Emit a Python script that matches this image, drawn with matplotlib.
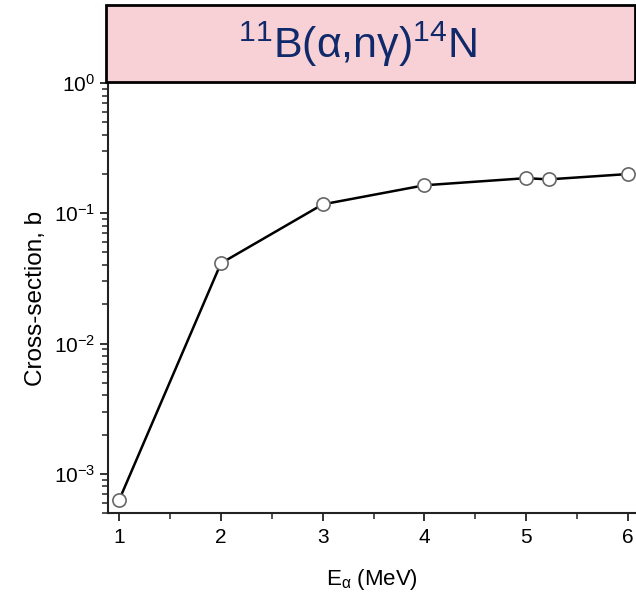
import matplotlib
matplotlib.use("Agg")
import matplotlib.pyplot as plt
from matplotlib.patches import Rectangle
from matplotlib.ticker import LogLocator, FixedLocator, NullFormatter

plt.rcParams['font.family'] = ['Liberation Sans', 'DejaVu Sans']
plt.rcParams['mathtext.fontset'] = 'custom'
plt.rcParams['mathtext.rm'] = 'Liberation Sans'
plt.rcParams['mathtext.it'] = 'Liberation Sans:italic'
plt.rcParams['mathtext.default'] = 'regular'

# Data
energy = [1.0, 2.0, 3.0, 4.0, 5.0, 5.22, 6.0]
cross_section = [6.3e-4, 0.0413, 0.117, 0.164, 0.186, 0.182, 0.200]
x_ticks = [1, 2, 3, 4, 5, 6]
y_ticks = [1e-3, 1e-2, 1e-1, 1e0]
y_tick_labels = ['$10^{-3}$', '$10^{-2}$', '$10^{-1}$', '$10^{0}$']
title = '$^{11}$B(α,nγ)$^{14}$N'
xlabel = 'E$_{α}$ (MeV)'
ylabel = 'Cross-section, b'

W, H = 636, 596
fig = plt.figure(figsize=(W / 100, H / 100), dpi=100)
ax = fig.add_axes([108 / W, (H - 513) / H, (W - 108) / W, (513 - 83) / H])

ax.plot(energy, cross_section, color='black', lw=1.8, marker='o', ms=9.5,
        mfc='white', mec='#666666', mew=1.2, zorder=3)

ax.set_yscale('log')
ax.set_ylim(5.0e-4, 1.0)
ax.set_xlim(0.89, 6.08)

ax.xaxis.set_major_locator(FixedLocator(x_ticks))
ax.xaxis.set_minor_locator(FixedLocator([1.5, 2.5, 3.5, 4.5, 5.5]))
ax.set_yticks(y_ticks)
ax.set_yticklabels(y_tick_labels)
ax.yaxis.set_minor_locator(LogLocator(base=10, subs=range(2, 10), numticks=20))
ax.yaxis.set_minor_formatter(NullFormatter())

for s in ['top', 'right']:
    ax.spines[s].set_visible(False)
for s in ['left', 'bottom']:
    ax.spines[s].set_linewidth(1.5)
    ax.spines[s].set_color('#222222')

ax.tick_params(which='major', direction='out', length=6, width=1.3,
               labelsize=15, color='#222222', pad=3)
ax.tick_params(which='minor', direction='out', length=4, width=1.1, color='#222222')
ax.tick_params(axis='x', pad=5)

ax.set_xlabel(xlabel, fontsize=16, labelpad=14)
ax.set_ylabel(ylabel, fontsize=17.5, labelpad=5)

# Title box
box = Rectangle((106 / W, (H - 82) / H), (W - 107) / W, 77 / H,
                transform=fig.transFigure, facecolor='#F8D1D6',
                edgecolor='black', lw=2, zorder=5)
fig.patches.append(box)
fig.text(358 / W, (H - 44) / H, title, ha='center', va='center',
         fontsize=31, color='#10296A', zorder=6)

fig.savefig('out.png', dpi=100)
